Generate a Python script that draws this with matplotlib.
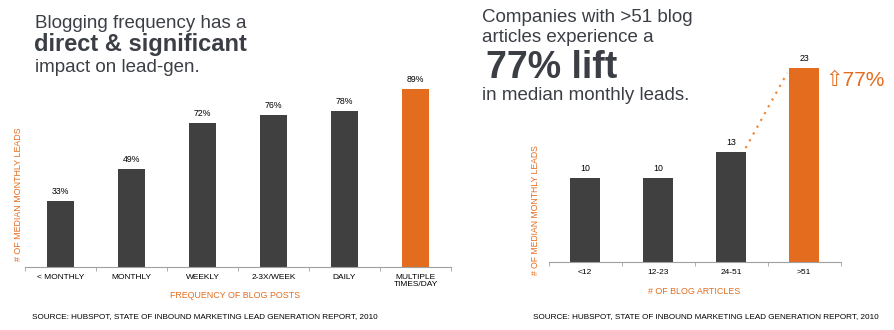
import matplotlib.pyplot as plt
import numpy as np

plt.rcParams['font.family'] = ['Liberation Sans', 'DejaVu Sans']

# left chart data
freq_labels = ['< MONTHLY', 'MONTHLY', 'WEEKLY', '2-3X/WEEK', 'DAILY', 'MULTIPLE\nTIMES/DAY']
freq_values = [33, 49, 72, 76, 78, 89]

# right chart data
article_labels = ['<12', '12-23', '24-51', '>51']
article_values = [10, 10, 13, 23]

DARK = '#404040'
ORANGE = '#e46c1e'
TXT = '#3b3f45'
INK = '#000000'
W, H = 894, 330

fig = plt.figure(figsize=(W / 100, H / 100), dpi=100)


def px_axes(x0, x1, ybase, ytop):
    return fig.add_axes([x0 / W, (H - ybase) / H, (x1 - x0) / W, (ybase - ytop) / H])


def style(ax, n, labels):
    for s in ['top', 'right', 'left']:
        ax.spines[s].set_visible(False)
    ax.spines['bottom'].set_color('#a0a0a0')
    ax.spines['bottom'].set_linewidth(0.8)
    ax.set_yticks([])
    ax.set_xlim(-0.5, n - 0.5)
    ax.set_xticks(np.arange(n))
    ax.set_xticklabels(labels, linespacing=1.0)
    ax.tick_params(axis='x', which='major', length=0, labelsize=6.0, colors=INK, pad=5)
    ax.set_xticks(np.arange(n + 1) - 0.5, minor=True)
    ax.tick_params(axis='x', which='minor', length=3, color='#a0a0a0')


# ---- left chart
ax1 = px_axes(25, 451, 267, 67)
x1 = np.arange(len(freq_values))
cols1 = [DARK] * (len(freq_values) - 1) + [ORANGE]
ax1.bar(x1, freq_values, width=0.39, color=cols1)
ax1.set_ylim(0, 100)
style(ax1, len(freq_values), freq_labels)
for xi, v in zip(x1, freq_values):
    ax1.annotate(f'{v}%', (xi, v), xytext=(0, 5), textcoords='offset pixels',
                 ha='center', va='bottom', fontsize=6.3, color=INK)
fig.text(19 / W, 1 - 194 / H, '# OF MEDIAN MONTHLY LEADS', rotation=90, ha='center',
         va='center', fontsize=6.4, color=ORANGE)
fig.text(235 / W, 1 - 296 / H, 'FREQUENCY OF BLOG POSTS', ha='center', va='center',
         fontsize=6.4, color=ORANGE)
fig.text(32 / W, 1 - 317 / H, 'SOURCE: HUBSPOT, STATE OF INBOUND MARKETING LEAD GENERATION REPORT, 2010',
         ha='left', va='center', fontsize=5.9, color=INK)

fig.text(35 / W, 1 - 24 / H, 'Blogging frequency has a', fontsize=13.5, color=TXT, va='center')
fig.text(34 / W, 1 - 45 / H, 'direct & significant', fontsize=17, color=TXT, va='center',
         fontweight='bold')
fig.text(35 / W, 1 - 67 / H, 'impact on lead-gen.', fontsize=13.5, color=TXT, va='center')

# ---- right chart
ax2 = px_axes(548.5, 840.5, 262, 51)
x2 = np.arange(len(article_values))
cols2 = [DARK] * (len(article_values) - 1) + [ORANGE]
bw = 0.4
ax2.bar(x2, article_values, width=bw, color=cols2)
ax2.set_ylim(0, 25)
style(ax2, len(article_values), article_labels)
for xi, v in zip(x2, article_values):
    ax2.annotate(str(v), (xi, v), xytext=(0, 5), textcoords='offset pixels',
                 ha='center', va='bottom', fontsize=6.3, color=INK)
# dotted connector from the 24-51 bar up to the >51 bar
ax2.plot([x2[2] + bw / 2, x2[3] - bw / 2 - 0.03],
         [article_values[2] + 0.5, article_values[3] - 0.6],
         linestyle=(0, (1, 2.5)), color='#f08a3c', linewidth=1.6, clip_on=False)
ax2.annotate('\u21e777%', (x2[3] + bw / 2, article_values[3]), xytext=(7, -13),
             textcoords='offset pixels', ha='left', va='center', fontsize=15,
             color=ORANGE, annotation_clip=False)
fig.text(535 / W, 1 - 210 / H, '# OF MEDIAN MONTHLY LEADS', rotation=90, ha='center',
         va='center', fontsize=6.2, color=ORANGE)
fig.text(694 / W, 1 - 291 / H, '# OF BLOG ARTICLES', ha='center', va='center',
         fontsize=6.4, color=ORANGE)
fig.text(533 / W, 1 - 317 / H, 'SOURCE: HUBSPOT, STATE OF INBOUND MARKETING LEAD GENERATION REPORT, 2010',
         ha='left', va='center', fontsize=5.9, color=INK)

fig.text(482 / W, 1 - 18 / H, 'Companies with >51 blog', fontsize=13.5, color=TXT, va='center')
fig.text(482 / W, 1 - 37 / H, 'articles experience a', fontsize=13.5, color=TXT, va='center')
fig.text(486 / W, 1 - 68 / H, '77% lift', fontsize=27, color=TXT, va='center', fontweight='bold')
fig.text(482 / W, 1 - 96 / H, 'in median monthly leads.', fontsize=13.5, color=TXT, va='center')

fig.savefig('out.png', dpi=100)
